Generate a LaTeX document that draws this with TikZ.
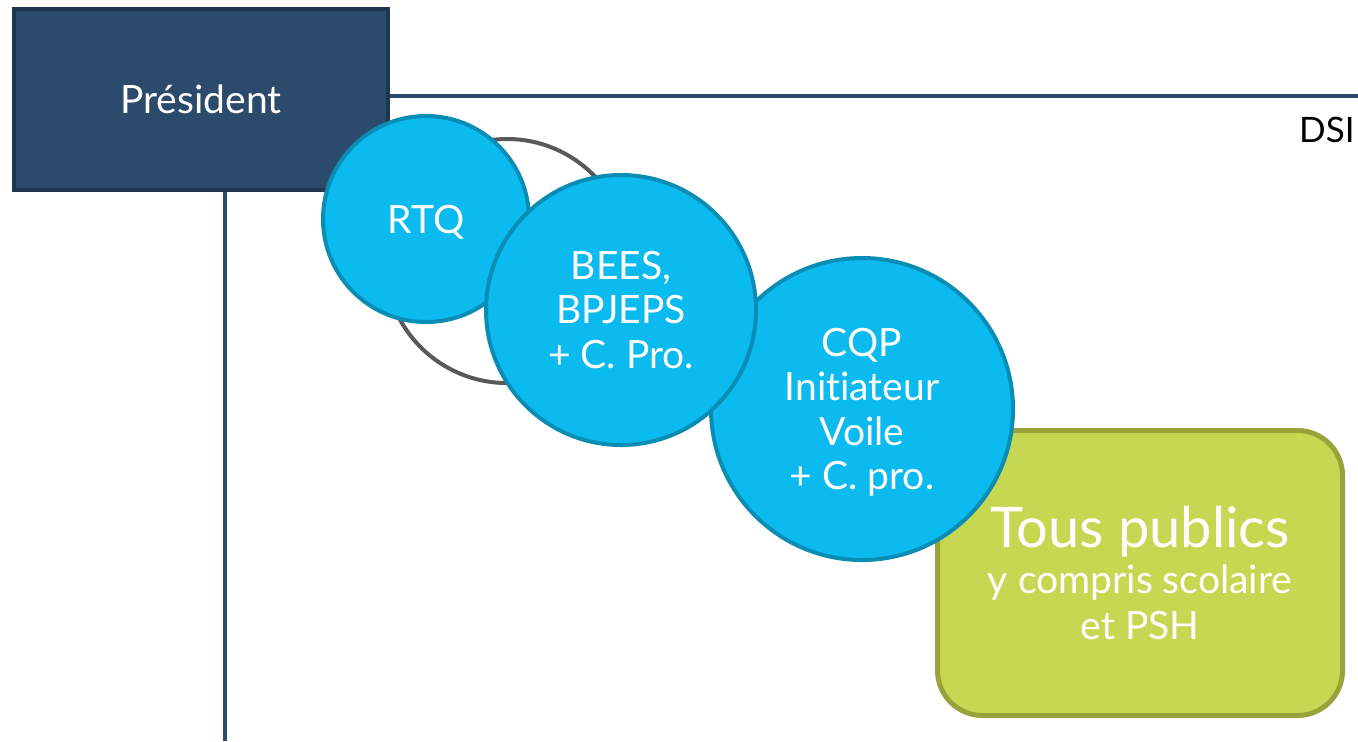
\documentclass[tikz,border=0pt]{standalone}
\usepackage{fontspec}
\setmainfont{Lato}[Ligatures=NoCommon]
\usetikzlibrary{backgrounds}
\definecolor{navy}{HTML}{2C4A6B}
\definecolor{navyedge}{HTML}{1F3550}
\definecolor{skyfill}{HTML}{0BBAEE}
\definecolor{skyedge}{HTML}{0A8DB5}
\definecolor{ringgray}{HTML}{595959}
\definecolor{limefill}{HTML}{C6D851}
\definecolor{limeedge}{HTML}{97A33B}
\tikzset{
  linkline/.style={draw=navy, line width=2.25pt},
  presbox/.style={rectangle, fill=navy, draw=navyedge, line width=2.25pt,
    minimum width=187pt, minimum height=90.5pt, inner sep=0pt,
    text=white, font=\fontsize{19.5}{22.25}\selectfont},
  bubble/.style={circle, fill=skyfill, draw=skyedge, line width=2pt,
    inner sep=0pt, text=white, align=center,
    font=\fontsize{19.5}{22.25}\selectfont},
  ring/.style={circle, draw=ringgray, line width=2pt, inner sep=0pt},
  publicbox/.style={rectangle, rounded corners=22.5pt, fill=limefill,
    draw=limeedge, line width=2.5pt, minimum width=202.5pt,
    minimum height=142.5pt, inner sep=0pt},
  boxtext/.style={text=white, align=center, inner sep=0pt,
    font=\fontsize{19.5}{23}\selectfont},
  dsilabel/.style={text=black, inner sep=0pt,
    font=\fontsize{17.5}{20}\selectfont}
}
\begin{document}
\begin{tikzpicture}[x=0.5pt,y=-0.5pt]
\useasboundingbox (0,0) rectangle (1358,741);
\coordinate (hEnd) at (1358,96);
\coordinate (vEnd) at (225,741);
\node[presbox] (pres) at (201,99.5) {Président};
\begin{scope}[on background layer]
\fill[white] (0,0) rectangle (1358,741);
\draw[linkline] (hEnd -| pres.east) -- (hEnd);
\draw[linkline] (vEnd |- pres.south) -- (vEnd);
\end{scope}
\node[dsilabel, anchor=base east] (dsi) at (1355,142) {DSI};
% ring
\node[ring, minimum size=122pt] (ringc) at (507,261) {};
% public box
\node[publicbox] (tous) at (1140,573) {};
% bubbles
\node[bubble, minimum size=151pt, text depth=0pt] (cqp) at (862,409) {CQP\\Initiateur\\Voile\\+ C. pro.};
\node[bubble, minimum size=103pt, text depth=0pt] (rtq) at (426,219) {RTQ};
\node[bubble, minimum size=135pt] (bees) at (621,310) {BEES,\\BPJEPS\\+ C. Pro.};
\node[boxtext] (tousText) at (tous.center) {{\fontsize{28}{23}\selectfont Tous publics}\\y compris scolaire\\et PSH};
\end{tikzpicture}
\end{document}
